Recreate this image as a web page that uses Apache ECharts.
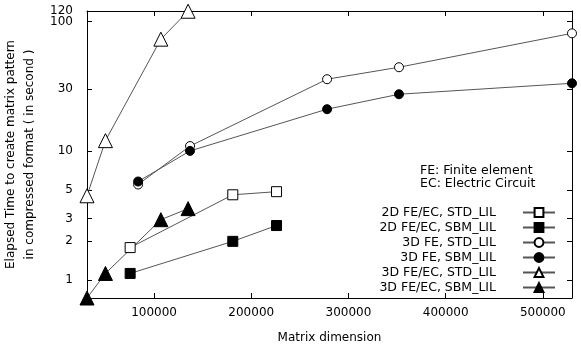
<!DOCTYPE html>
<html>
<head>
<meta charset="utf-8">
<script src="https://cdn.jsdelivr.net/npm/echarts@6/dist/echarts.min.js"></script>
<style>html,body{margin:0;padding:0;background:#fff}#c{width:581px;height:349px}</style>
</head>
<body>
<div id="c"></div>
<script>
// ---- data ----
const xTicks = [100000, 200000, 300000, 400000, 500000];
const yTicks = [1, 2, 3, 5, 10, 30, 100];
const yTopTicks = [120];

const x2D = [75400, 181000, 226000];
const y2DStd = [1.79, 4.58, 4.84];
const y2DSbm = [1.13, 2.0, 2.65];

const x3DFE = [83600, 137000, 278000, 352000, 530000];
const y3DFEStd = [5.5, 10.9, 35.8, 44.3, 81];
const y3DFESbm = [5.8, 10.0, 21.0, 27.4, 33.3];

const x3DFEEC = [31000, 50000, 107000, 135000];
const y3DFEECStd = [4.5, 12, 73, 120];
const y3DFEECSbm = [0.73, 1.13, 2.94, 3.58];

const names = ['2D FE/EC, STD_LIL', '2D FE/EC, SBM_LIL', '3D FE, STD_LIL', '3D FE, SBM_LIL', '3D FE/EC, STD_LIL', '3D FE/EC, SBM_LIL'];

function pairs(xs, ys) { return xs.map((x, i) => [x, ys[i]]); }

const FONT = 'DejaVu Sans';
const Y_MIN = 0.73, Y_MAX = 120.5;
const chart = echarts.init(document.getElementById('c'), null, { renderer: 'canvas' });

function mk(name, xs, ys, symbol, size, filled) {
  return {
    name: name, type: 'line', data: pairs(xs, ys),
    symbol: symbol, symbolSize: size, showAllSymbol: true, clip: false,
    lineStyle: { color: '#555', width: 1 },
    itemStyle: { color: filled ? '#000' : '#fff', borderColor: '#000', borderWidth: 1 },
    emphasis: { disabled: true },
    animation: false, z: 3
  };
}

const labelFmt = v => String(Math.round(v));

const option = {
  animation: false,
  textStyle: { fontFamily: FONT },
  grid: { left: 87, right: 9, top: 11, bottom: 51, containLabel: false, outerBoundsMode: 'none' },
  xAxis: [
    {
      type: 'value', min: 31000, max: 530000,
      name: 'Matrix dimension', nameLocation: 'middle', nameGap: 34,
      nameTextStyle: { fontFamily: FONT, fontSize: 12, color: '#000' },
      axisLine: { lineStyle: { color: '#000', width: 1 } },
      axisTick: { inside: true, length: 5, customValues: xTicks, lineStyle: { color: '#000' } },
      axisLabel: { customValues: xTicks, fontFamily: FONT, fontSize: 12, color: '#000', margin: 9, formatter: labelFmt },
      splitLine: { show: false }
    },
    {
      type: 'value', position: 'top', min: 31000, max: 530000,
      axisLine: { show: true, onZero: false, lineStyle: { color: '#000', width: 1 } },
      axisTick: { inside: true, length: 5, customValues: xTicks, lineStyle: { color: '#000' } },
      axisLabel: { show: false },
      splitLine: { show: false }
    }
  ],
  yAxis: [
    {
      type: 'log', logBase: 10, min: Y_MIN, max: Y_MAX,
      name: 'Elapsed Time to create matrix pattern\nin compressed format ( in second )',
      nameLocation: 'middle', nameGap: 32, nameRotate: 90,
      nameTextStyle: { fontFamily: FONT, fontSize: 12, color: '#000', lineHeight: 19, align: 'center' },
      axisLine: { show: true, lineStyle: { color: '#000', width: 1 } },
      axisTick: { show: true, inside: true, length: 5, customValues: yTicks, lineStyle: { color: '#000' } },
      axisLabel: { customValues: yTicks, fontFamily: FONT, fontSize: 12, color: '#000', margin: 14, formatter: labelFmt },
      splitLine: { show: false }, minorTick: { show: false }
    },
    {
      type: 'log', logBase: 10, min: Y_MIN, max: Y_MAX, position: 'right',
      axisLine: { show: true, onZero: false, lineStyle: { color: '#000', width: 1 } },
      axisTick: { show: true, inside: true, length: 5, customValues: yTicks, lineStyle: { color: '#000' } },
      axisLabel: { show: false },
      splitLine: { show: false }
    },
    {
      type: 'log', logBase: 10, min: Y_MIN, max: Y_MAX, position: 'left',
      axisLine: { show: false },
      axisTick: { show: false },
      axisLabel: { customValues: yTopTicks, showMaxLabel: true, fontFamily: FONT, fontSize: 12, color: '#000', margin: 14, formatter: labelFmt },
      splitLine: { show: false }
    }
  ],
  legend: {
    orient: 'vertical', right: 20, top: 200, align: 'right',
    itemWidth: 32, itemHeight: 11, itemGap: 0,
    textStyle: { fontFamily: FONT, fontSize: 12.5, color: '#000', padding: [0, 22, 0, 0], lineHeight: 15 },
    data: names
  },
  graphic: [
    { type: 'text', left: 420, top: 164, style: { text: 'FE: Finite element\nEC: Electric Circuit', font: '12.5px "DejaVu Sans"', fill: '#000', lineHeight: 13 } }
  ],
  series: [
    mk(names[0], x2D, y2DStd, 'rect', 10, false),
    mk(names[1], x2D, y2DSbm, 'rect', 10, true),
    mk(names[2], x3DFE, y3DFEStd, 'circle', 9, false),
    mk(names[3], x3DFE, y3DFESbm, 'circle', 9, true),
    mk(names[4], x3DFEEC, y3DFEECStd, 'triangle', 14, false),
    mk(names[5], x3DFEEC, y3DFEECSbm, 'triangle', 14, true)
  ]
};
chart.setOption(option);
</script>
</body>
</html>
